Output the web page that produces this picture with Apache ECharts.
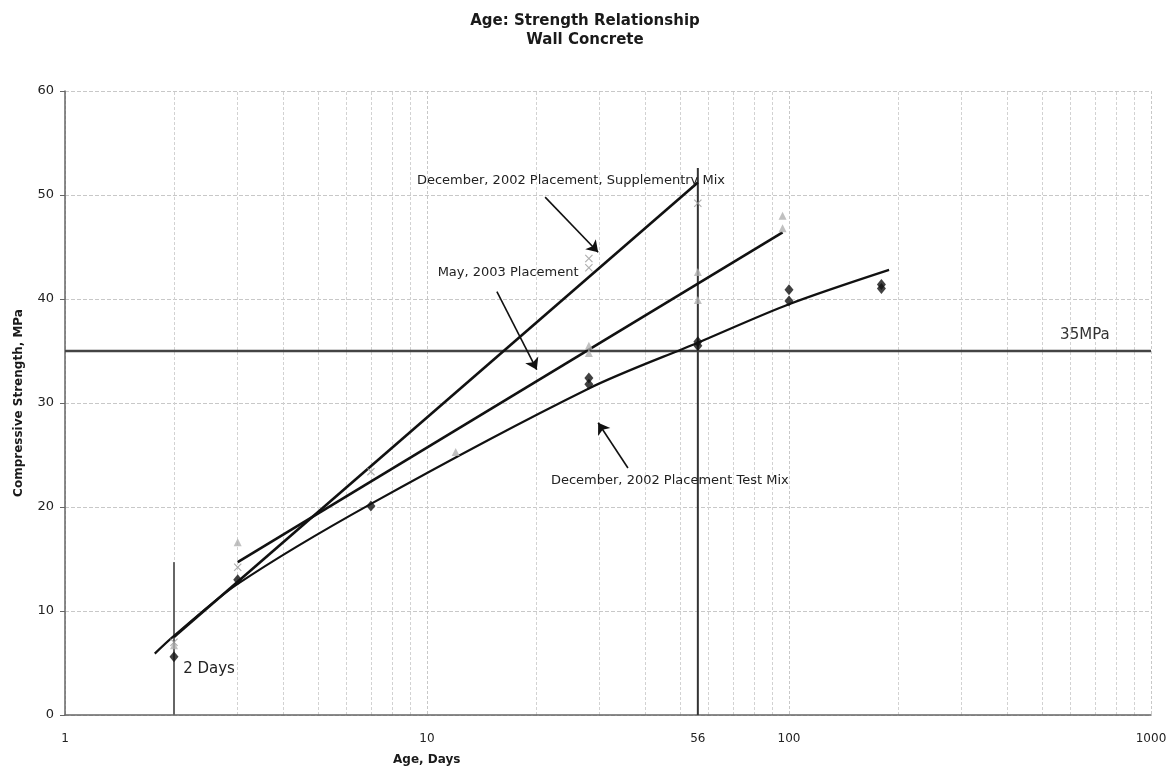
<!DOCTYPE html>
<html><head><meta charset="utf-8">
<script src="https://cdn.jsdelivr.net/npm/echarts@6/dist/echarts.min.js"></script>
<style>html,body{margin:0;background:#fff}#c{width:1170px;height:776px}</style>
</head><body><div id="c"></div>
<script>
// ---- data ----
const xTickLabels = [1, 10, 56, 100, 1000];
const minorGridX = [2,3,4,5,6,7,8,9,20,30,40,50,60,70,80,90,200,300,400,500,600,700,800,900];
const testMix = [[2,5.6],[3,13.0],[7,20.1],[28,32.4],[28,31.8],[56,35.9],[56,35.5],[100,40.9],[100,39.8],[180,41.4],[180,41.0]];
const may2003 = [[2,6.7],[3,16.6],[12,25.3],[28,35.5],[28,34.8],[56,42.6],[56,39.9],[96,48.0],[96,46.8]];
const suppMix = [[2,7.0],[3,14.2],[7,23.4],[28,43.9],[28,43.0],[56,49.2]];
const suppFit = [[2,7.5],[56,51.2]];
const mayFit = [[3,14.7],[96,46.4]];
const testFit = [[1.77,5.9],[2,7.6],[3,12.6],[7,20.3],[28,31.4],[56,35.8],[100,39.5],[189,42.8]];
const targetStrength = 35;
const day2Line = [[2,0],[2,14.7]];
const day56Line = [[56,0],[56,52.6]];
const annotations = [
  {text:'December, 2002 Placement, Supplementry Mix', at:[9.38,51.4], from:[21.2,49.8], to:[29.7,44.5]},
  {text:'May, 2003 Placement', at:[10.7,42.5], from:[15.6,40.7], to:[20.1,33.2]},
  {text:'December, 2002 Placement Test Mix', at:[22.0,22.5], from:[35.9,23.75], to:[29.7,28.1]}
];
const day2Label = {text:'2 Days', at:[2.12,4.4]};
const mpaLabel = {text:'35MPa', at:[561,36.5]};

const FONT = '"DejaVu Sans", "Liberation Sans", Arial, sans-serif';
const xShape = 'path://M0,1L1,0L5,4L9,0L10,1L6,5L10,9L9,10L5,6L1,10L0,9L4,5Z';

const chart = echarts.init(document.getElementById('c'), null, {renderer:'canvas'});
chart.setOption({
  backgroundColor:'#fff',
  animation:false,
  title:{
    text:'Age: Strength Relationship\nWall Concrete',
    left:'center', top:7,
    textStyle:{fontFamily:FONT, fontSize:15, fontWeight:'bold', color:'#1a1a1a', lineHeight:19}
  },
  graphic:[{
    type:'text', left:393, top:754,
    style:{text:'Age, Days', font:'bold 12px '+FONT, fill:'#1a1a1a'}
  }],
  grid:{left:65, right:19, top:91, bottom:61},
  xAxis:{
    type:'log', min:1, max:1000, logBase:10,
    axisLine:{lineStyle:{color:'#666', width:1.5}},
    axisTick:{show:false},
    axisLabel:{customValues:xTickLabels, formatter:v=>String(Math.round(v)), fontFamily:FONT, fontSize:12, color:'#222', margin:18},
    splitLine:{show:true, lineStyle:{color:'#c8c8c8', type:[3,2], width:1}}
  },
  yAxis:{
    type:'value', min:0, max:60, interval:10,
    name:'Compressive Strength, MPa', nameLocation:'middle', nameGap:40,
    nameTextStyle:{fontFamily:FONT, fontSize:12, fontWeight:'bold', color:'#1a1a1a'},
    axisLine:{show:true, lineStyle:{color:'#666', width:1.5}},
    axisTick:{show:true, length:5, lineStyle:{color:'#666'}},
    axisLabel:{fontFamily:FONT, fontSize:13, color:'#222', margin:11},
    splitLine:{lineStyle:{color:'#c8c8c8', type:[4,2], width:1}}
  },
  series:[
    {
      type:'line', data:[], silent:true, z:0,
      markLine:{
        silent:true, symbol:'none', animation:false, z:0,
        label:{show:false},
        lineStyle:{color:'#d2d2d2', type:[3,2], width:1},
        data: minorGridX.map(v=>({xAxis:v}))
      }
    },
    {type:'line', data:day2Line, symbol:'none', lineStyle:{color:'#666', width:2}, z:3},
    {type:'line', data:day56Line, symbol:'none', lineStyle:{color:'#333', width:2}, z:3},
    {
      type:'line', data:[[1,targetStrength],[1000,targetStrength]], symbol:'none',
      lineStyle:{color:'#444', width:2.5}, z:3,
      markLine:{
        silent:true, animation:false, symbol:['none','arrow'], symbolSize:11,
        label:{show:false},
        lineStyle:{color:'#111', width:1.6, type:'solid'},
        data: annotations.map(a=>[{coord:a.from, symbol:'none'},{coord:a.to, symbol:'arrow', symbolSize:11}])
      },
      markPoint:{
        silent:true, animation:false, symbol:'circle', symbolSize:0,
        data: annotations.map(a=>({
          coord:a.at, value:a.text,
          label:{show:true, position:'right', distance:0, formatter:'{c}',
                 fontFamily:FONT, fontSize:13, color:'#222'}
        })).concat([
          {coord:day2Label.at, value:day2Label.text,
           label:{show:true, position:'right', distance:0, formatter:'{c}', fontFamily:FONT, fontSize:15, color:'#222'}},
          {coord:mpaLabel.at, value:mpaLabel.text,
           label:{show:true, position:'right', distance:0, formatter:'{c}', fontFamily:FONT, fontSize:15, color:'#333'}}
        ])
      }
    },
    {type:'line', data:suppFit, symbol:'none', lineStyle:{color:'#111', width:2.6}, z:4},
    {type:'line', data:mayFit, symbol:'none', lineStyle:{color:'#111', width:2.6}, z:4},
    {type:'line', data:testFit, symbol:'none', smooth:0.3, lineStyle:{color:'#111', width:2.2}, z:4},
    {type:'scatter', data:may2003, symbol:'triangle', symbolSize:8, itemStyle:{color:'#b0b0b0'}, z:5},
    {type:'scatter', data:suppMix, symbol:xShape, symbolSize:8, itemStyle:{color:'#9a9a9a'}, z:5},
    {type:'scatter', data:testMix, symbol:'diamond', symbolSize:[9,11], itemStyle:{color:'#111'}, z:6}
  ]
});
</script></body></html>
